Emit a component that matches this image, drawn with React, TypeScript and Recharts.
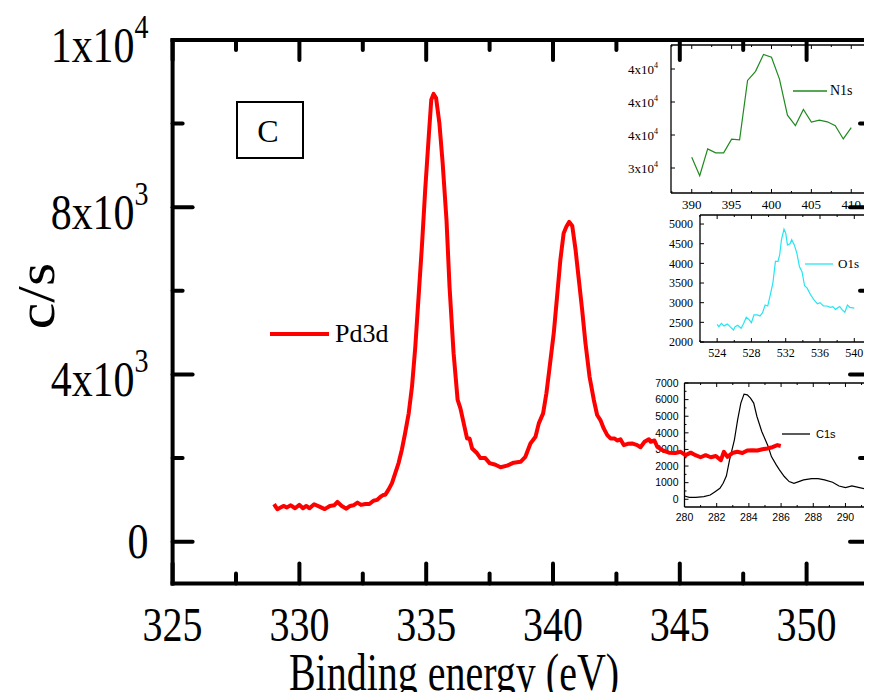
import React from 'react'
import { Legend, Line, LineChart, XAxis, YAxis } from 'recharts'

const SERIF = "'Liberation Serif', 'Times New Roman', Times, serif"
const SANS = "'Liberation Sans', Arial, Helvetica, sans-serif"
const W = 872
const H = 700

// Pd3d main spectrum (binding energy eV / counts per second)
const pdEnergy = [
  329.0, 329.13, 329.37, 329.5, 329.66, 329.83, 330.0, 330.14, 330.27, 330.4,
  330.58, 330.79, 331.0, 331.2, 331.37, 331.5, 331.67, 331.85, 332.0, 332.13,
  332.29, 332.43, 332.6, 332.76, 332.92, 333.06, 333.2, 333.3, 333.39, 333.52,
  333.65, 333.78, 333.91, 334.04, 334.17, 334.31, 334.44, 334.57, 334.7, 334.83,
  334.96, 335.1, 335.2, 335.29, 335.39, 335.52, 335.65, 335.8, 335.92, 336.08,
  336.24, 336.35, 336.48, 336.61, 336.71, 336.81, 337.0, 337.14, 337.33, 337.5,
  337.73, 337.93, 338.19, 338.45, 338.72, 338.91, 339.11, 339.31, 339.44, 339.61,
  339.74, 339.87, 340.03, 340.16, 340.29, 340.42, 340.53, 340.64, 340.76, 340.89,
  341.02, 341.15, 341.28, 341.44, 341.61, 341.74, 341.87, 342.0, 342.14, 342.27,
  342.43, 342.53, 342.66, 342.79, 342.95, 343.12, 343.32, 343.45, 343.61, 343.78,
  343.85, 344.0, 344.11, 344.31, 344.57, 344.83, 345.03, 345.23, 345.43, 345.62,
  345.82, 346.02, 346.22, 346.42, 346.62, 346.74, 346.88, 347.07, 347.27, 347.47,
  347.66, 347.86, 348.06, 348.26, 348.45, 348.65, 348.85, 348.98,
]
const pdCounts = [
  900, 775, 855, 820, 870, 800, 880, 800, 855, 800,
  895, 840, 780, 855, 870, 950, 855, 790, 855, 870,
  935, 880, 900, 900, 980, 1000, 1075, 1115, 1125, 1250,
  1400, 1640, 1880, 2200, 2600, 3070, 3710, 4660, 5860, 7060,
  8410, 9690, 10570, 10710, 10610, 10010, 9050, 7700, 6100, 4510,
  3390, 3190, 2830, 2470, 2470, 2230, 2120, 2000, 2000, 1880,
  1840, 1780, 1820, 1890, 1910, 2030, 2350, 2510, 2830, 3070,
  3550, 4190, 4990, 5860, 6740, 7380, 7540, 7650, 7550, 6980,
  6260, 5540, 4750, 3950, 3390, 3030, 2910, 2710, 2550, 2470,
  2470, 2420, 2450, 2310, 2340, 2350, 2310, 2260, 2390, 2450,
  2390, 2420, 2270, 2190, 2130, 2120, 2150, 2070, 2130, 2070,
  2020, 2070, 2020, 2050, 1950, 2150, 2030, 2120, 2150, 2120,
  2180, 2190, 2180, 2210, 2230, 2260, 2310, 2290,
]

const mainXTicks = [325, 327.5, 330, 332.5, 335, 337.5, 340, 342.5, 345, 347.5, 350]
const mainXLabels = [325, 330, 335, 340, 345, 350]
const mainYTicks = [0, 2000, 4000, 6000, 8000, 10000, 12000]
const mainYLabelValues = [0, 4000, 8000, 12000]
const mainYLabelBase = ['0', '4x10', '8x10', '1x10']
const mainYLabelExp = ['', '3', '3', '4']

// N1s inset
const n1sEnergy = [390, 391, 392, 393, 394, 395, 396, 397, 398, 399, 400, 401, 402, 403, 404, 405, 406, 407, 408, 409, 410]
const n1sCounts = [
  34650, 33530, 35160, 34920, 34920, 35750, 35710, 39310, 39860, 40880, 40710,
  39390, 37200, 36570, 37550, 36780, 36900, 36800, 36570, 35760, 36450,
]
const n1sXTicks = [387.5, 390, 392.5, 395, 397.5, 400, 402.5, 405, 407.5, 410]
const n1sXLabels = [390, 395, 400, 405, 410]
const n1sYTicks = [34000, 36000, 38000, 40000]
const n1sYLabels = ['3x10', '4x10', '4x10', '4x10']

// O1s inset
const o1sEnergy = [
  524.0, 524.2, 524.5, 524.8, 525.2, 525.5, 525.9, 526.1, 526.4, 526.8,
  527.1, 527.4, 527.7, 528.0, 528.3, 528.7, 529.0, 529.3, 529.6, 529.9,
  530.2, 530.5, 530.8, 531.1, 531.3, 531.5, 531.8, 532.0, 532.2, 532.5,
  532.7, 533.0, 533.3, 533.6, 533.9, 534.2, 534.5, 534.9, 535.3, 535.7,
  536.0, 536.4, 536.8, 537.2, 537.5, 537.8, 538.3, 538.6, 538.9, 539.2,
  539.5, 540.0,
]
const o1sCounts = [
  2450, 2390, 2475, 2410, 2460, 2390, 2305, 2390, 2425, 2350,
  2475, 2630, 2575, 2490, 2690, 2690, 2660, 2745, 2940, 2915,
  3200, 3495, 4050, 4050, 4220, 4600, 4870, 4770, 4470, 4500,
  4600, 4470, 4260, 3920, 3790, 3430, 3370, 3200, 3070, 2970,
  3000, 2915, 2915, 2880, 2900, 2830, 2900, 2815, 2755, 2940,
  2880, 2860,
]
const o1sXTicks = [522, 524, 526, 528, 530, 532, 534, 536, 538, 540]
const o1sXLabels = [524, 528, 532, 536, 540]
const o1sYTicks = [2000, 2500, 3000, 3500, 4000, 4500, 5000]
const o1sYLabels = ['2000', '2500', '3000', '3500', '4000', '4500', '5000']

// C1s inset
const c1sEnergy = [
  280.0, 280.3, 280.7, 281.2, 281.6, 281.9, 282.2, 282.4, 282.6, 282.8,
  283.1, 283.3, 283.5, 283.7, 283.9, 284.1, 284.3, 284.5, 284.8, 285.2,
  285.4, 285.7, 285.9, 286.2, 286.5, 286.8, 287.1, 287.4, 287.9, 288.3,
  288.7, 289.2, 289.6, 290.0, 290.4, 290.8, 291.3,
]
const c1sCounts = [
  200, 120, 120, 160, 260, 460, 660, 965, 1400, 2370,
  3580, 4780, 5790, 6330, 6290, 6090, 5790, 4985, 4080, 3180,
  2570, 2070, 1770, 1370, 1065, 965, 1065, 1165, 1245, 1245,
  1165, 1025, 800, 700, 800, 720, 600,
]
const c1sXTicks = [280, 281, 282, 283, 284, 285, 286, 287, 288, 289, 290, 291]
const c1sXLabels = [280, 282, 284, 286, 288, 290]
const c1sYTicks = [0, 500, 1000, 1500, 2000, 2500, 3000, 3500, 4000, 4500, 5000, 5500, 6000, 6500, 7000]
const c1sYLabelValues = [0, 1000, 2000, 3000, 4000, 5000, 6000, 7000]
const c1sYLabels = ['0', '1000', '2000', '3000', '4000', '5000', '6000', '7000']

const toPoints = (xs: number[], ys: number[]) => xs.map((x, i) => ({ x, y: ys[i] }))

type Rect = { left: number; top: number; right: number; bottom: number }

type InsetSpec = {
  name: string
  energy: number[]
  counts: number[]
  color: string
  font: string
  fontSize: number
  plot: Rect
  xDomain: [number, number]
  yDomain: [number, number]
  xTicks: number[]
  xLabels: number[]
  yTicks: number[]
  yLabelValues: number[]
  yLabels: string[]
  yExp?: string
  xLabelDy: number
  yLabelDx: number
  legend: { x: number; y: number; len: number; gap: number; size: number }
}

const insets: InsetSpec[] = [
  {
    name: 'N1s',
    energy: n1sEnergy,
    counts: n1sCounts,
    color: '#1f8a1f',
    font: SERIF,
    fontSize: 13,
    plot: { left: 671, top: 45, right: 868, bottom: 193 },
    xDomain: [387.4, 412.1],
    yDomain: [32485, 41455],
    xTicks: n1sXTicks,
    xLabels: n1sXLabels,
    yTicks: n1sYTicks,
    yLabelValues: n1sYTicks,
    yLabels: n1sYLabels,
    yExp: '4',
    xLabelDy: 16,
    yLabelDx: 13,
    legend: { x: 793, y: 91, len: 34, gap: 3, size: 14 },
  },
  {
    name: 'O1s',
    energy: o1sEnergy,
    counts: o1sCounts,
    color: '#22e6f2',
    font: SERIF,
    fontSize: 12,
    plot: { left: 700, top: 215, right: 868, bottom: 342 },
    xDomain: [522.0, 541.6],
    yDomain: [2000, 5230],
    xTicks: o1sXTicks,
    xLabels: o1sXLabels,
    yTicks: o1sYTicks,
    yLabelValues: o1sYTicks,
    yLabels: o1sYLabels,
    xLabelDy: 15,
    yLabelDx: 7,
    legend: { x: 805, y: 264, len: 28, gap: 5, size: 13 },
  },
  {
    name: 'C1s',
    energy: c1sEnergy,
    counts: c1sCounts,
    color: '#000',
    font: SANS,
    fontSize: 10.5,
    plot: { left: 684.5, top: 383, right: 868, bottom: 507 },
    xDomain: [280, 291.4],
    yDomain: [-465, 7000],
    xTicks: c1sXTicks,
    xLabels: c1sXLabels,
    yTicks: c1sYTicks,
    yLabelValues: c1sYLabelValues,
    yLabels: c1sYLabels,
    xLabelDy: 14,
    yLabelDx: 6,
    legend: { x: 782, y: 434, len: 28, gap: 6, size: 11 },
  },
]

// axes are given 1px of size (Recharts skips axes of zero size), margins absorb it
function InsetChart({ spec }: { spec: InsetSpec }) {
  const data = toPoints(spec.energy, spec.counts)
  const { plot, font, fontSize } = spec
  const frame = { stroke: '#000', strokeWidth: 1.3 }
  const majorX = (v: number) => spec.xLabels.includes(v)
  const yIndex = (v: number) => spec.yLabelValues.indexOf(v)

  const bottomTick = ({ x, y, payload }: any) => (
    <g>
      <line x1={x} y1={y} x2={x} y2={y - (majorX(payload.value) ? 4 : 2)} stroke="#000" />
      {majorX(payload.value) && (
        <text x={x} y={y + spec.xLabelDy} textAnchor="middle" fontFamily={font} fontSize={fontSize} fill="#000">
          {payload.value}
        </text>
      )}
    </g>
  )
  const topTick = ({ x, y, payload }: any) => (
    <line x1={x} y1={y} x2={x} y2={y + (majorX(payload.value) ? 4 : 2)} stroke="#000" />
  )
  const leftTick = ({ x, y, payload }: any) => {
    const i = yIndex(payload.value)
    return (
      <g>
        <line x1={x} y1={y} x2={x + (i >= 0 ? 4 : 2)} y2={y} stroke="#000" />
        {i >= 0 && (
          <text x={x - spec.yLabelDx} y={y + fontSize * 0.35} textAnchor="end" fontFamily={font} fontSize={fontSize} fill="#000">
            {spec.yLabels[i]}
            {spec.yExp && (
              <tspan dy={-fontSize * 0.45} fontSize={fontSize * 0.62}>
                {spec.yExp}
              </tspan>
            )}
          </text>
        )}
      </g>
    )
  }
  const rightTick = ({ x, y, payload }: any) => (
    <line x1={x} y1={y} x2={x - (yIndex(payload.value) >= 0 ? 4 : 2)} y2={y} stroke="#000" />
  )

  return (
    <div style={{ position: 'absolute', left: 0, top: 0 }}>
      <LineChart
        width={W}
        height={H}
        data={data}
        margin={{ top: plot.top - 1, left: plot.left - 1, right: W - plot.right - 1, bottom: H - plot.bottom - 1 }}
      >
        <XAxis dataKey="x" type="number" domain={spec.xDomain} ticks={spec.xTicks} interval={0} allowDataOverflow height={1} tickSize={0} tickMargin={0} axisLine={frame} tickLine={false} tick={bottomTick} />
        <XAxis xAxisId="top" dataKey="x" orientation="top" type="number" domain={spec.xDomain} ticks={spec.xTicks} interval={0} allowDataOverflow height={1} tickSize={0} tickMargin={0} axisLine={frame} tickLine={false} tick={topTick} />
        <YAxis type="number" domain={spec.yDomain} ticks={spec.yTicks} interval={0} allowDataOverflow width={1} tickSize={0} tickMargin={0} axisLine={frame} tickLine={false} tick={leftTick} />
        <YAxis yAxisId="right" orientation="right" type="number" domain={spec.yDomain} ticks={spec.yTicks} interval={0} allowDataOverflow width={1} tickSize={0} tickMargin={0} axisLine={frame} tickLine={false} tick={rightTick} />
        <Line dataKey="y" type="linear" stroke={spec.color} strokeWidth={1.2} dot={false} isAnimationActive={false} />
        <Legend
          layout="horizontal"
          verticalAlign="middle"
          align="center"
          wrapperStyle={{ left: spec.legend.x, top: spec.legend.y - 9, width: 'auto', height: 18 }}
          content={() => (
            <div style={{ display: 'flex', alignItems: 'center', height: 18, fontFamily: font, fontSize: spec.legend.size, color: '#000' }}>
              <svg width={spec.legend.len} height={4} style={{ display: 'block' }}>
                <line x1={0} y1={2} x2={spec.legend.len} y2={2} stroke={spec.color} strokeWidth={1.3} />
              </svg>
              <span style={{ marginLeft: spec.legend.gap, lineHeight: '18px' }}>{spec.name}</span>
            </div>
          )}
        />
      </LineChart>
    </div>
  )
}

const AXIS = { stroke: '#000', strokeWidth: 4, strokeLinecap: 'square' as const }
const LABEL_STRETCH = 1.22

function MainXTick({ x, y, payload }: any) {
  const major = mainXLabels.includes(payload.value)
  return (
    <g>
      <line x1={x} y1={y} x2={x} y2={y - (major ? 20 : 10)} stroke="#000" strokeWidth={4} strokeLinecap="round" />
      {major && (
        <text transform={`translate(${x},${y + 57}) scale(1,${LABEL_STRETCH})`} textAnchor="middle" fontFamily={SERIF} fontSize={40} fill="#000">
          {payload.value}
        </text>
      )}
    </g>
  )
}

function MainTopTick({ x, y, payload }: any) {
  const major = mainXLabels.includes(payload.value)
  return <line x1={x} y1={y} x2={x} y2={y + (major ? 20 : 10)} stroke="#000" strokeWidth={4} strokeLinecap="round" />
}

function MainYTick({ x, y, payload }: any) {
  const i = mainYLabelValues.indexOf(payload.value)
  const exp = i >= 0 ? mainYLabelExp[i] : ''
  return (
    <g>
      <line x1={x} y1={y} x2={x + (i >= 0 ? 20 : 10)} y2={y} stroke="#000" strokeWidth={4} strokeLinecap="round" />
      {i >= 0 && (
        <text transform={`translate(${x - 24},${y + 16 + (exp ? 6 : 0)}) scale(1,${LABEL_STRETCH})`} textAnchor="end" fontFamily={SERIF} fontSize={42} fill="#000">
          {mainYLabelBase[i]}
          {exp && (
            <tspan dy={-20} fontSize={28}>
              {exp}
            </tspan>
          )}
        </text>
      )}
    </g>
  )
}

function MainRightTick({ x, y, payload }: any) {
  const major = mainYLabelValues.includes(payload.value)
  return <line x1={x} y1={y} x2={x - (major ? 20 : 10)} y2={y} stroke="#000" strokeWidth={4} strokeLinecap="round" />
}

function MainChart() {
  const data = toPoints(pdEnergy, pdCounts)
  return (
    <div style={{ position: 'absolute', left: 0, top: 0 }}>
      <LineChart width={W} height={H} data={data} margin={{ top: 39, left: 171.6, right: 1, bottom: 115.5 }}>
        <XAxis dataKey="x" type="number" domain={[325, 352.5]} ticks={mainXTicks} interval={0} allowDataOverflow height={1} tickSize={0} tickMargin={0} axisLine={AXIS} tickLine={false} tick={MainXTick} />
        <XAxis xAxisId="top" dataKey="x" orientation="top" type="number" domain={[325, 352.5]} ticks={mainXTicks} interval={0} allowDataOverflow height={1} tickSize={0} tickMargin={0} axisLine={AXIS} tickLine={false} tick={MainTopTick} />
        <YAxis type="number" domain={[-1000, 12000]} ticks={mainYTicks} interval={0} allowDataOverflow width={1} tickSize={0} tickMargin={0} axisLine={AXIS} tickLine={false} tick={MainYTick} />
        <YAxis yAxisId="right" orientation="right" type="number" domain={[-1000, 12000]} ticks={mainYTicks} interval={0} allowDataOverflow width={1} tickSize={0} tickMargin={0} axisLine={AXIS} tickLine={false} tick={MainRightTick} />
        <Line dataKey="y" type="linear" stroke="#ff0000" strokeWidth={4} strokeLinejoin="round" dot={false} isAnimationActive={false} />
        <Legend
          layout="horizontal"
          verticalAlign="middle"
          align="center"
          wrapperStyle={{ left: 270, top: 318, width: 'auto', height: 32 }}
          content={() => (
            <div style={{ display: 'flex', alignItems: 'center', height: 32, fontFamily: SERIF, fontSize: 26, color: '#000' }}>
              <svg width={59} height={6} style={{ display: 'block' }}>
                <line x1={0} y1={3} x2={59} y2={3} stroke="#ff0000" strokeWidth={4} />
              </svg>
              <span style={{ marginLeft: 6 }}>Pd3d</span>
            </div>
          )}
        />
      </LineChart>
    </div>
  )
}

export default function App() {
  return (
    <div style={{ position: 'relative', width: W, height: H, margin: -8, overflow: 'hidden', background: '#fff' }}>
      {insets.map((s) => (
        <InsetChart key={s.name} spec={s} />
      ))}
      <MainChart />
      <svg width={W} height={H} style={{ position: 'absolute', left: 0, top: 0, pointerEvents: 'none' }}>
        <text transform="translate(54,296) rotate(-90) scale(1.15,1)" textAnchor="middle" fontFamily={SERIF} fontSize={52} fill="#000">
          c/s
        </text>
        <text transform="translate(454,690) scale(1,1.34)" textAnchor="middle" fontFamily={SERIF} fontSize={40} fill="#000">
          Binding energy (eV)
        </text>
        <rect x={237} y={102} width={66} height={56} fill="none" stroke="#000" strokeWidth={2} />
        <text x={268} y={142} textAnchor="middle" fontFamily={SERIF} fontSize={32} fill="#000">
          C
        </text>
      </svg>
    </div>
  )
}
